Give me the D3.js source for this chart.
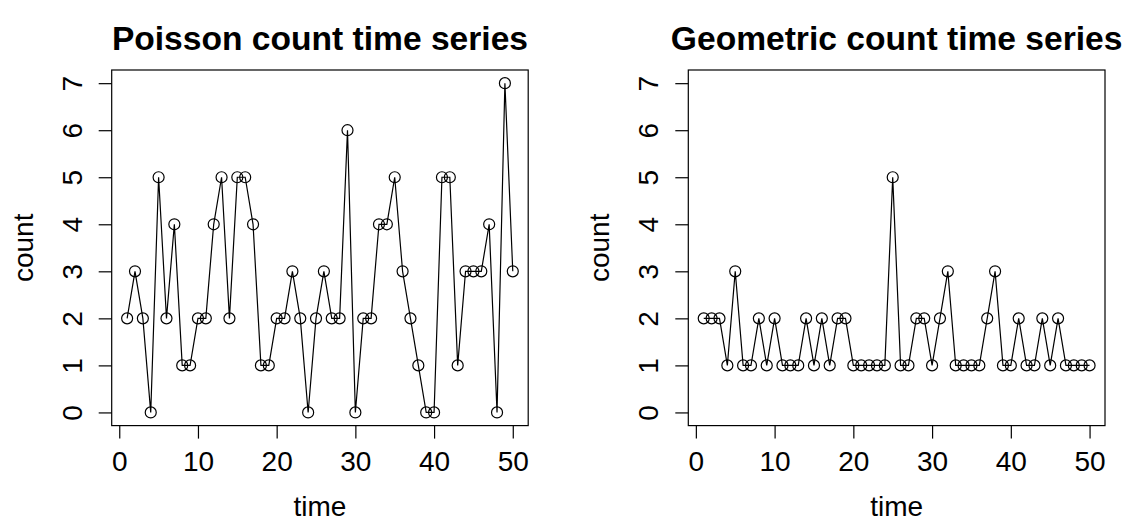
<!DOCTYPE html>
<html>
<head>
<meta charset="utf-8">
<script src="https://cdn.jsdelivr.net/npm/d3@7"></script>
<style>
  body { margin: 0; background: #fff; }
  text { font-family: "Liberation Sans", Arial, Helvetica, sans-serif; fill: #000; }
</style>
</head>
<body>
<svg id="chart" width="1130" height="522"></svg>
<script>
var timeIdx = d3.range(1, 51);

var poissonCounts = [2,3,2,0,5,2,4,1,1,2, 2,4,5,2,5,5,4,1,1,2,
                     2,3,2,0,2,3,2,2,6,0, 2,2,4,4,5,3,2,1,0,0,
                     5,5,1,3,3,3,4,0,7,3];
var geometricCounts = [2,2,2,1,3,1,1,2,1,2, 1,1,1,2,1,2,1,2,2,1,
                       1,1,1,1,5,1,1,2,2,1, 2,3,1,1,1,1,2,3,1,1,
                       2,1,1,2,1,2,1,1,1,1];

var xTicks = [0, 10, 20, 30, 40, 50];
var yTicks = [0, 1, 2, 3, 4, 5, 6, 7];
var titles = ["Poisson count time series", "Geometric count time series"];

var svg = d3.select("#chart");

// plot region of each panel
var panels = [
  {x0: 111.7, x1: 528.2, y0: 70, y1: 425.6, data: poissonCounts, title: titles[0]},
  {x0: 688.3, x1: 1105,  y0: 70, y1: 425.6, data: geometricCounts, title: titles[1]}
];

// R style 4% extension of the ranges
var xDom = [1 - 49 * 0.04, 50 + 49 * 0.04];
var yDom = [0 - 7 * 0.04, 7 + 7 * 0.04];

panels.forEach(function(p) {
  var x = d3.scaleLinear().domain(xDom).range([p.x0, p.x1]);
  var y = d3.scaleLinear().domain(yDom).range([p.y1, p.y0]);
  var g = svg.append("g");

  var pts = timeIdx.map(function(t, i) { return [t, p.data[i]]; });

  g.append("path")
    .datum(pts)
    .attr("fill", "none")
    .attr("stroke", "#000")
    .attr("stroke-width", 1.2)
    .attr("d", d3.line().x(function(d){ return x(d[0]); }).y(function(d){ return y(d[1]); }));

  g.selectAll(".pt").data(pts)
    .enter().append("circle")
    .attr("class", "pt")
    .attr("cx", function(d){ return x(d[0]); })
    .attr("cy", function(d){ return y(d[1]); })
    .attr("r", 5.5)
    .attr("fill", "none")
    .attr("stroke", "#000")
    .attr("stroke-width", 1.2);

  // box
  g.append("rect")
    .attr("x", p.x0).attr("y", p.y0)
    .attr("width", p.x1 - p.x0).attr("height", p.y1 - p.y0)
    .attr("fill", "none")
    .attr("stroke", "#000")
    .attr("stroke-width", 1.2);

  // x axis
  var xa = g.append("g")
    .attr("transform", "translate(0," + p.y1 + ")")
    .call(d3.axisBottom(x).tickValues(xTicks).tickSize(13).tickSizeOuter(0).tickPadding(0));
  xa.select(".domain").remove();
  xa.selectAll("line").attr("stroke", "#000").attr("stroke-width", 1.2);
  xa.selectAll("text")
    .attr("y", 45).attr("dy", null)
    .style("font-size", "28px");

  // y axis, labels turned like R does
  var ya = g.append("g")
    .attr("transform", "translate(" + p.x0 + ",0)")
    .call(d3.axisLeft(y).tickValues(yTicks).tickSize(13).tickSizeOuter(0));
  ya.select(".domain").remove();
  ya.selectAll("line").attr("stroke", "#000").attr("stroke-width", 1.2);
  ya.selectAll("text")
    .attr("x", 0).attr("y", -30).attr("dy", null)
    .attr("transform", "rotate(-90)")
    .attr("text-anchor", "middle")
    .style("font-size", "28px");

  // titles and labels
  g.append("text")
    .attr("x", (p.x0 + p.x1) / 2).attr("y", 50)
    .attr("text-anchor", "middle")
    .style("font-size", "33.6px").style("font-weight", "bold")
    .text(p.title);

  g.append("text")
    .attr("x", (p.x0 + p.x1) / 2).attr("y", 516)
    .attr("text-anchor", "middle")
    .style("font-size", "28px")
    .text("time");

  g.append("text")
    .attr("transform", "translate(" + (p.x0 - 79) + "," + ((p.y0 + p.y1) / 2) + ") rotate(-90)")
    .attr("text-anchor", "middle")
    .style("font-size", "28px")
    .text("count");
});
</script>
</body>
</html>
